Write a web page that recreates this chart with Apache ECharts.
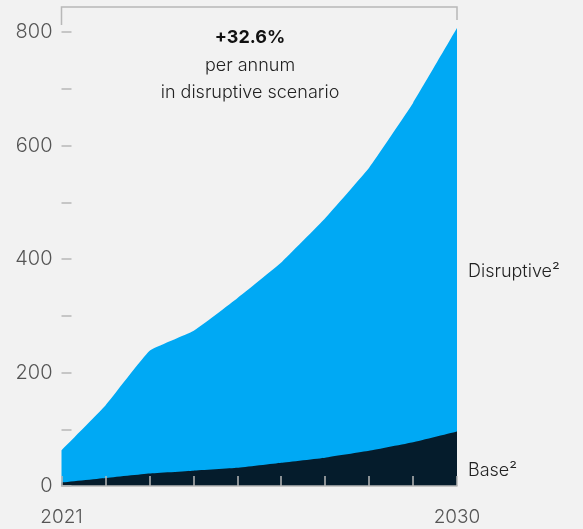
<!DOCTYPE html>
<html><head><meta charset="utf-8">
<script src="https://cdn.jsdelivr.net/npm/echarts@6/dist/echarts.min.js"></script>
<style>html,body{margin:0;padding:0;background:#f2f2f2;}#c{width:583px;height:529px;}</style>
</head><body><div id="c"></div>
<script>
const years = ['2021','2022','2023','2024','2025','2026','2027','2028','2029','2030'];
const disruptive = [63, 142, 238, 273, 331, 394, 472, 561, 675, 807];
const base = [6, 14, 22, 27, 32, 41, 50, 62, 77, 96];
const yTicks = [0, 200, 400, 600, 800];
const FONT = 'Inter';
const chart = echarts.init(document.getElementById('c'), null, {renderer: 'canvas'});
chart.setOption({
  backgroundColor: '#f2f2f2',
  animation: false,
  grid: {left: 61.5, right: 126, top: 32, bottom: 43},
  xAxis: {
    type: 'category', data: years, boundaryGap: false, z: 10,
    axisLine: {show: true, lineStyle: {color: '#b8b8b8', width: 1.5}},
    axisTick: {show: true, inside: true, length: 10, interval: 0, lineStyle: {color: '#b8b8b8', width: 1.5}},
    axisLabel: {
      interval: 0, margin: 22, color: '#555', fontSize: 19, fontWeight: 300, fontFamily: FONT,
      formatter: (v, i) => (i === 0 || i === years.length - 1) ? v : ''
    },
    splitLine: {show: false}
  },
  yAxis: {
    type: 'value', min: 0, max: 800, interval: 100, z: 10,
    axisLine: {show: false},
    axisTick: {show: true, inside: true, length: 10, lineStyle: {color: '#b8b8b8', width: 1.5}},
    axisLabel: {
      margin: 9, color: '#555', fontSize: 20, fontWeight: 300, fontFamily: FONT,
      formatter: v => yTicks.includes(v) ? String(v) : ''
    },
    splitLine: {show: false}
  },
  series: [
    {name: 'Disruptive', type: 'line', data: disruptive, symbol: 'none', smooth: 0.1, clip: false,
     lineStyle: {width: 0}, areaStyle: {color: '#00a9f4', opacity: 1}, z: 2},
    {name: 'Base', type: 'line', data: base, symbol: 'none', smooth: 0.1, clip: false,
     lineStyle: {width: 0}, areaStyle: {color: '#051c2c', opacity: 1}, z: 3}
  ]
});
const x0 = chart.convertToPixel({xAxisIndex: 0}, years[0]);
const x1 = chart.convertToPixel({xAxisIndex: 0}, years[years.length - 1]);
chart.setOption({
  graphic: [
    {type: 'polyline', shape: {points: [[x0, 25], [x0, 7], [x1, 7], [x1, 20]]},
     style: {stroke: '#b8b8b8', lineWidth: 1.5, fill: null}},
    {type: 'text', x: 250, y: 38, style: {text: '+32.6%', fontSize: 18, fontWeight: 'bold', fill: '#111', fontFamily: FONT, align: 'center', verticalAlign: 'middle'}},
    {type: 'text', x: 250, y: 66, style: {text: 'per annum', fontSize: 18, fontWeight: 300, fill: '#222', fontFamily: FONT, align: 'center', verticalAlign: 'middle'}},
    {type: 'text', x: 250, y: 93, style: {text: 'in disruptive scenario', fontSize: 18, fontWeight: 300, fill: '#222', fontFamily: FONT, align: 'center', verticalAlign: 'middle'}},
    {type: 'text', x: 468, y: 272, style: {text: 'Disruptive²', fontSize: 18, fontWeight: 300, fill: '#222', fontFamily: FONT, align: 'left', verticalAlign: 'middle'}},
    {type: 'text', x: 468, y: 471, style: {text: 'Base²', fontSize: 18, fontWeight: 300, fill: '#222', fontFamily: FONT, align: 'left', verticalAlign: 'middle'}}
  ]
});
</script></body></html>
